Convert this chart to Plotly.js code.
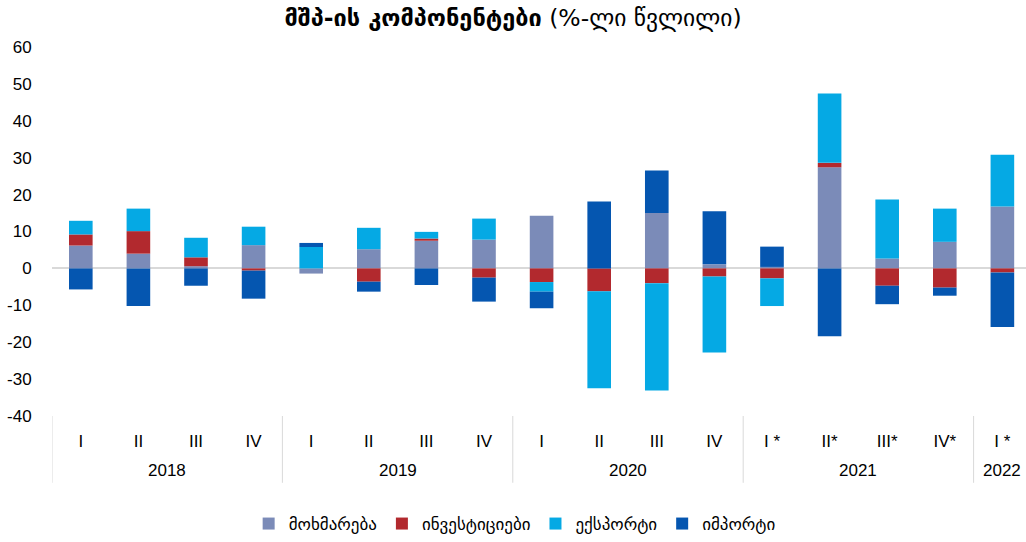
<!DOCTYPE html>
<html>
<head>
<meta charset="utf-8">
<script src="https://cdn.plot.ly/plotly-3.0.1.min.js"></script>
<style>html,body{margin:0;padding:0;background:#fff;}#chart{width:1026px;height:542px;}</style>
</head>
<body>
<div id="chart"></div>
<script>
const years = ["2018","2018","2018","2018","2019","2019","2019","2019","2020","2020","2020","2020","2021","2021","2021","2021","2022"];
const quarters = ["I","II","III","IV","I","II","III","IV","I","II","III","IV","I *","II*","III*","IV*","I *"];
const consumption = [6.2, 4.0, 0.6, 6.3, -1.4, 5.2, 7.5, 7.8, 14.3, 0, 15.0, 1.1, 0.4, 27.4, 2.7, 7.2, 16.8];
const investment  = [3.0, 6.1, 2.4, -0.6, 0, -3.6, 0.6, -2.5, -3.7, -6.2, -4.0, -2.2, -2.7, 1.2, -4.7, -5.2, -1.1];
const exports_    = [3.7, 6.1, 5.3, 5.0, 5.8, 5.8, 1.8, 5.7, -2.6, -26.3, -29.1, -20.6, -7.5, 18.8, 16.0, 9.0, 14.0];
const imports_    = [-5.7, -10.2, -4.7, -7.6, 1.1, -2.7, -4.5, -6.5, -4.5, 18.1, 11.5, 14.4, 5.5, -18.4, -5.0, -2.2, -14.8];
const seriesNames = ["მოხმარება","ინვესტიციები","ექსპორტი","იმპორტი"];
const colors = ["#7B8BB8","#B2292E","#05A9E4","#0556B0"];
const yTicks = [-40,-30,-20,-10,0,10,20,30,40,50,60];

const geoFont = "'DejaVu Sans', sans-serif";
const numFont = "'Liberation Sans', Arial, sans-serif";

const idx = quarters.map((_, i) => i);

const data = [consumption, investment, exports_, imports_].map((vals, i) => ({
  type: 'bar',
  x: idx,
  y: vals,
  name: seriesNames[i],
  marker: {color: colors[i], line: {width: 0}},
  hoverinfo: 'y+name'
}));

// year groups: label centred over each group, dividers at group boundaries
const groups = [];
years.forEach((y, i) => {
  if (!groups.length || groups[groups.length - 1].year !== y) groups.push({year: y, start: i, end: i});
  else groups[groups.length - 1].end = i;
});
const annotations = groups.map(g => ({
  xref: 'x', yref: 'paper',
  x: (g.start + g.end) / 2, y: -0.148,
  text: g.year, showarrow: false, xanchor: 'center', yanchor: 'middle',
  font: {family: numFont, size: 17, color: '#000'}
}));
const shapes = groups.map(g => ({
  type: 'line', xref: 'x', yref: 'paper',
  x0: g.start - 0.5, x1: g.start - 0.5, y0: 0, y1: -0.181,
  line: {color: '#D9D9D9', width: 1}
}));

const layout = {
  width: 1026, height: 542,
  margin: {l: 52, r: 0, t: 47, b: 124},
  paper_bgcolor: '#fff', plot_bgcolor: '#fff',
  barmode: 'relative',
  bargap: 0.59,
  title: {
    text: "<b>მშპ-ის კომპონენტები</b> (%-ლი წვლილი)",
    font: {family: geoFont, size: 23.5, color: '#000'},
    x: 0.5, xanchor: 'center', y: 0.967, yanchor: 'middle', yref: 'container', automargin: false
  },
  xaxis: {
    type: 'linear',
    range: [-0.5, 16.41],
    automargin: false,
    tickmode: 'array', tickvals: idx, ticktext: quarters,
    showgrid: false, zeroline: false, showline: false,
    ticks: 'outside', ticklen: 10, tickcolor: 'rgba(0,0,0,0)',
    tickfont: {family: numFont, size: 17, color: '#000'}
  },
  yaxis: {
    range: [-40, 60],
    automargin: false,
    tickvals: yTicks,
    ticktext: yTicks.map(String),
    showgrid: false,
    zeroline: true, zerolinecolor: '#D9D9D9', zerolinewidth: 2,
    showline: false,
    ticks: 'outside', ticklen: 16, tickcolor: 'rgba(0,0,0,0)',
    tickfont: {family: numFont, size: 17, color: '#000'}
  },
  annotations: annotations,
  shapes: shapes,
  showlegend: true,
  legend: {
    orientation: 'h', x: 0.475, xanchor: 'center', y: -0.294, yanchor: 'middle', yref: 'paper',
    font: {family: geoFont, size: 17, color: '#000'},
    itemwidth: 30, traceorder: 'normal'
  }
};

Plotly.newPlot('chart', data, layout, {displayModeBar: false, staticPlot: true});
</script>
</body>
</html>
